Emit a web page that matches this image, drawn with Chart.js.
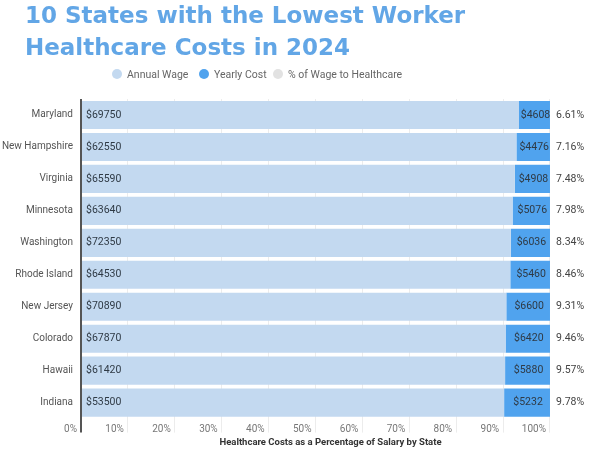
<!DOCTYPE html>
<html>
<head>
<meta charset="utf-8">
<script src="https://cdn.jsdelivr.net/npm/chart.js@4"></script>
<style>
  html, body { margin: 0; padding: 0; background: #fff; }
  #wrap { position: relative; width: 600px; height: 452px; overflow: hidden; }
  #title { position: absolute; left: 25px; top: -1px; margin: 0;
    font: 700 23px/32px "DejaVu Sans", sans-serif; color: #62a6e6; }
  #legend { position: absolute; left: 0; top: 68px; width: 600px; height: 14px;
    font: 10.5px Roboto, sans-serif; color: #666; }
  #legend span { position: absolute; top: 0; line-height: 14px; white-space: nowrap; }
  #legend i { display: inline-block; width: 10px; height: 10px; border-radius: 50%;
    vertical-align: -1px; margin-right: 5px; }
  canvas { position: absolute; left: 0; top: 0; }
</style>
</head>
<body>
<div id="wrap">
  <canvas id="chart" width="600" height="452"></canvas>
  <h1 id="title">10 States with the Lowest Worker<br>Healthcare Costs in 2024</h1>
  <div id="legend"></div>
</div>
<script>
// Lowest worker healthcare costs, 2024
const states = ['Maryland', 'New Hampshire', 'Virginia', 'Minnesota', 'Washington',
  'Rhode Island', 'New Jersey', 'Colorado', 'Hawaii', 'Indiana'];
const annualWage = [69750, 62550, 65590, 63640, 72350, 64530, 70890, 67870, 61420, 53500];
const yearlyCost = [4608, 4476, 4908, 5076, 6036, 5460, 6600, 6420, 5880, 5232];
const pctOfWage = [6.61, 7.16, 7.48, 7.98, 8.34, 8.46, 9.31, 9.46, 9.57, 9.78];
const xTicks = [0, 10, 20, 30, 40, 50, 60, 70, 80, 90, 100];

const colors = { wage: '#c3d9f0', cost: '#50a3ee', pct: '#e2e2e2' };
const seriesNames = ['Annual Wage', 'Yearly Cost', '% of Wage to Healthcare'];

// share of the bar: cost part is cost / wage, wage part is the rest
const costShare = yearlyCost.map((c, i) => c / annualWage[i] * 100);
const wageShare = costShare.map(s => 100 - s);

// html legend (positioned like the original, not centred on the canvas)
const legendPos = [112, 199, 273];
const legendCols = [colors.wage, colors.cost, colors.pct];
document.getElementById('legend').innerHTML = seriesNames.map((n, i) =>
  `<span style="left:${legendPos[i]}px"><i style="background:${legendCols[i]}"></i>${n}</span>`).join('');

const labelPlugin = {
  id: 'barLabels',
  afterDatasetsDraw(chart) {
    const ctx = chart.ctx;
    const x = chart.scales.x;
    const costMeta = chart.getDatasetMeta(1);
    ctx.save();
    ctx.font = '10.5px Roboto, sans-serif';
    ctx.textBaseline = 'middle';
    costMeta.data.forEach((bar, i) => {
      ctx.fillStyle = '#2f3a45';
      ctx.textAlign = 'left';
      ctx.fillText('$' + annualWage[i], x.getPixelForValue(0) + 5, bar.y);
      ctx.textAlign = 'center';
      ctx.fillText('$' + yearlyCost[i], (bar.x + bar.base) / 2 + 1, bar.y);
      ctx.fillStyle = '#444';
      ctx.textAlign = 'left';
      ctx.fillText(pctOfWage[i].toFixed(2) + '%', x.getPixelForValue(100) + 6, bar.y);
    });
    ctx.restore();
  }
};

new Chart(document.getElementById('chart'), {
  type: 'bar',
  data: {
    labels: states,
    datasets: [
      { label: seriesNames[0], data: wageShare, backgroundColor: colors.wage },
      { label: seriesNames[1], data: costShare, backgroundColor: colors.cost },
      { label: seriesNames[2], data: pctOfWage, backgroundColor: 'rgba(0,0,0,0)' }
    ]
  },
  options: {
    indexAxis: 'y',
    responsive: false,
    animation: false,
    barPercentage: 0.88,
    categoryPercentage: 1,
    layout: { padding: { top: 99, right: 20, left: 0, bottom: 4 } },
    plugins: {
      legend: { display: false },
      tooltip: { enabled: false }
    },
    scales: {
      x: {
        stacked: true,
        min: 0,
        max: 106.4,
        afterBuildTicks: (s) => { s.ticks = xTicks.map(v => ({ value: v })); },
        ticks: {
          callback: v => v + '%',
          align: 'end',
          labelOffset: -4,
          padding: -9,
          color: '#777',
          font: { family: 'Roboto', size: 10 }
        },
        grid: {
          color: c => (c.tick && c.tick.value === 0) ? '#555' : '#ececec',
          lineWidth: c => (c.tick && c.tick.value === 0) ? 2 : 1,
          tickLength: 14
        },
        border: { display: false },
        title: {
          display: true,
          text: 'Healthcare Costs as a Percentage of Salary by State',
          color: '#333',
          font: { family: 'Roboto', size: 9.5, weight: 'bold' },
          padding: { top: 10, bottom: 0 }
        }
      },
      y: {
        stacked: true,
        afterFit: (s) => { s.width = 81; },
        ticks: { color: '#555', font: { family: 'Roboto', size: 10 }, padding: 8 },
        grid: { display: false, drawTicks: false },
        border: { display: false }
      }
    }
  },
  plugins: [labelPlugin]
});
</script>
</body>
</html>
